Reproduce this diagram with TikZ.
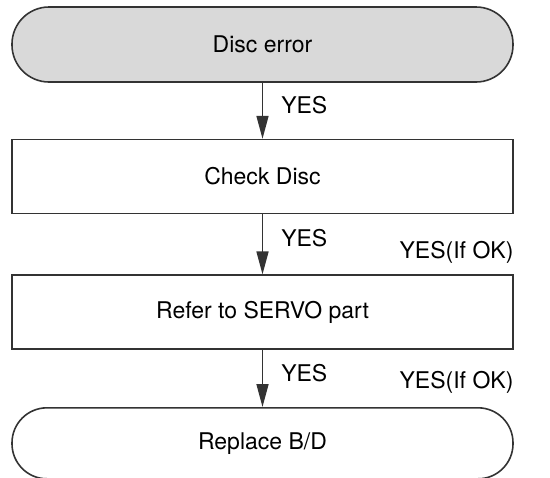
\documentclass[tikz,border=0pt]{standalone}
\usepackage{fontspec}
\setmainfont{TeX Gyre Heros}
\usetikzlibrary{arrows.meta,positioning}
\colorlet{lineclr}{black!80}
\colorlet{startfill}{black!15}
\tikzset{
  chartfont/.style={font=\fontsize{11.5}{13.5}\selectfont},
  terminal/.style={rectangle,rounded corners=17.5pt,draw=lineclr,line width=0.8pt,
    minimum width=250.5pt,minimum height=35.5pt,chartfont},
  procbox/.style={rectangle,draw=lineclr,line width=0.8pt,
    minimum width=250.5pt,minimum height=37pt,chartfont},
  flow/.style={-{Triangle[length=11.5pt,width=6pt]},line width=0.8pt,draw=lineclr},
  yeslbl/.style={chartfont,inner sep=0pt},
}

\begin{document}
\begin{tikzpicture}
    \useasboundingbox (0,0) rectangle (275pt,-238.5pt);

    \node [terminal,fill=startfill,minimum height=37.5pt,rounded corners=18.5pt]
      (err) at (131.25pt,-22.25pt) {Disc error};
    \node [procbox,below=28pt of err] (chk) {Check Disc};
    \node [procbox,below=30pt of chk] (ref) {Refer to SERVO part};
    \node [terminal,below=28.5pt of ref] (rep) {Replace B/D};

    \draw [flow] (err) -- node [yeslbl,pos=0.4,anchor=west,xshift=9pt] {YES} (chk);
    \draw [flow] (chk) -- node [yeslbl,pos=0.4,anchor=west,xshift=9pt] {YES} (ref);
    \draw [flow] (ref) -- node [yeslbl,pos=0.4,anchor=west,xshift=9pt] {YES} (rep);

    \node [yeslbl,anchor=east] (ok1) at ([yshift=11pt]ref.north east) {YES(If OK)};
    \node [yeslbl,anchor=east] (ok2) at ([yshift=12.5pt]rep.north east) {YES(If OK)};
\end{tikzpicture}
\end{document}
